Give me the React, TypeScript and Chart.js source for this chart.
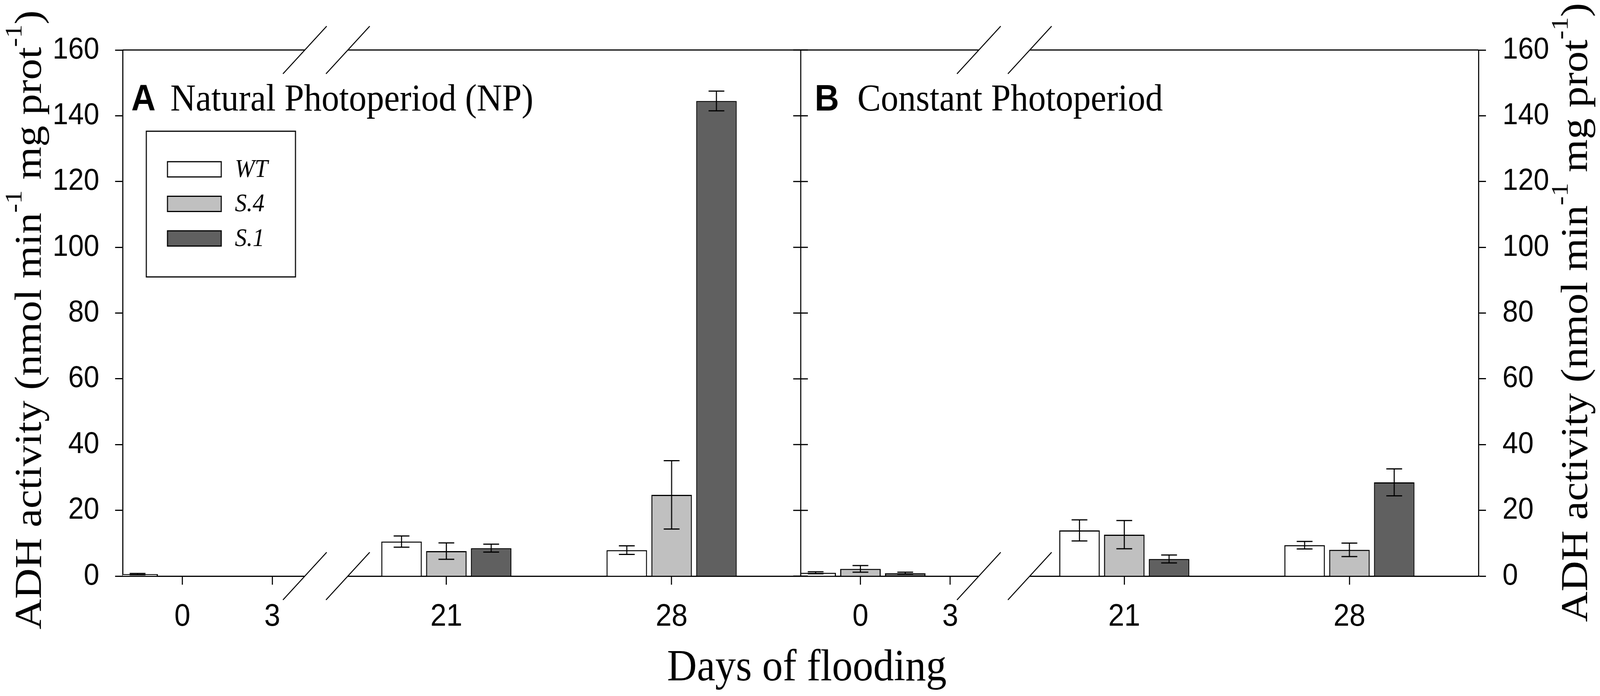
import { useEffect, useRef } from 'react';
import { Chart, registerables } from 'chart.js';

Chart.register(...registerables);

// ---------- data ----------
const DAYS = ['0', '3', '21', '28'];
const SERIES = ['WT', 'S.4', 'S.1'];

// Panel A: Natural Photoperiod (NP)
const A_WT = [0.6, null, 10.5, 7.9];
const A_WT_ERR = [0.2, null, 1.7, 1.3];
const A_S4 = [null, null, 7.6, 24.7];
const A_S4_ERR = [null, null, 2.5, 10.4];
const A_S1 = [null, null, 8.5, 144.5];
const A_S1_ERR = [null, null, 1.2, 3.0];

// Panel B: Constant Photoperiod
const B_WT = [1.0, null, 13.9, 9.4];
const B_WT_ERR = [0.3, null, 3.2, 1.15];
const B_S4 = [2.2, null, 12.6, 8.0];
const B_S4_ERR = [1.0, null, 4.3, 2.05];
const B_S1 = [0.9, null, 5.2, 28.5];
const B_S1_ERR = [0.3, null, 1.2, 4.1];

const Y_MIN = 0;
const Y_MAX = 160;
const Y_STEP = 20;

// ---------- layout / style ----------
const W = 4462;
const H = 1782;
const PLOT_LEFT = 342;
const PLOT_MID = 2233;
const PLOT_RIGHT = 4123;
const PLOT_TOP = 128;
const PLOT_BOTTOM = 1475;

// broken x axis: slot positions of the day ticks (scale runs 0..100 per panel)
const X_MAX = 100;
const DAY_POS = [8.81, 22.06, 47.74, 80.96];
const BREAK_POS = 30.04;
const BAR_PITCH = 6.61;
const BAR_FILL = 0.904;

const COLORS = ['#ffffff', '#c0c0c0', '#606060'];
const SANS = "'Liberation Sans', Arial, sans-serif";
const SERIF = "'Liberation Serif', 'Times New Roman', serif";

const Y_TITLE_LEN = 1585;

const PANEL = {
  A: {
    letter: 'A',
    title: 'Natural Photoperiod (NP)',
    letterDx: 24,
    titleDx: 133,
    breakGap: 60,
    yTitleX: 114,
    yTitleCY: 819,
  },
  B: {
    letter: 'B',
    title: 'Constant Photoperiod',
    letterDx: 39,
    titleDx: 158,
    breakGap: 71,
    yTitleX: 4426,
    yTitleCY: 800,
  },
};

const Y_TITLE_PARTS = [
  { t: 'ADH activity (nmol min', sup: false },
  { t: '-1', sup: true },
  { t: ' mg prot', sup: false },
  { t: '-1', sup: true },
  { t: ')', sup: false },
];

const minGap = Math.min(...DAY_POS.slice(1).map((v, i) => v - DAY_POS[i]));

function line(ctx, x1, y1, x2, y2) {
  ctx.beginPath();
  ctx.moveTo(x1, y1);
  ctx.lineTo(x2, y2);
  ctx.stroke();
}

const errorBarPlugin = {
  id: 'errorBars',
  afterDatasetsDraw(chart) {
    const { ctx } = chart;
    const yScale = chart.scales.y;
    ctx.save();
    ctx.strokeStyle = '#000';
    ctx.lineWidth = 3;
    chart.data.datasets.forEach((ds, di) => {
      const meta = chart.getDatasetMeta(di);
      const errs = ds.errors || [];
      meta.data.forEach((el, i) => {
        const pt = ds.data[i];
        const e = errs[i];
        if (!pt || pt.y == null || e == null) return;
        const x = el.x;
        const yt = yScale.getPixelForValue(pt.y + e);
        const yb = yScale.getPixelForValue(Math.max(0, pt.y - e));
        line(ctx, x, yt, x, yb);
        line(ctx, x - 22, yt, x + 22, yt);
        line(ctx, x - 22, yb, x + 22, yb);
      });
    });
    ctx.restore();
  },
};

function makeFramePlugin(panelKey) {
  const P = PANEL[panelKey];
  return {
    id: 'frame' + panelKey,
    afterDraw(chart) {
      const { ctx, chartArea: ca } = chart;
      const xs = chart.scales.x;
      const ys = chart.scales.y;
      ctx.save();
      ctx.strokeStyle = '#000';
      ctx.lineWidth = 3;
      ctx.lineCap = 'butt';
      // top frame line
      line(ctx, ca.left, ca.top, ca.right, ca.top);
      if (panelKey === 'B') {
        // divider between panels, ticks on both sides
        line(ctx, ca.left, ca.top, ca.left, ca.bottom);
        ys.ticks.forEach((t) => {
          const py = ys.getPixelForValue(t.value);
          line(ctx, ca.left - 21, py, ca.left + 20, py);
        });
      }
      // axis break marks
      const cx = xs.getPixelForValue(BREAK_POS);
      const g = P.breakGap;
      const s = 61;
      [ca.top, ca.bottom].forEach((y0) => {
        ctx.fillStyle = '#fff';
        ctx.fillRect(cx - g, y0 - 3, 2 * g, 6);
        ctx.lineWidth = 2.5;
        [-g, g].forEach((d) => line(ctx, cx + d + s, y0 - s, cx + d - s, y0 + s));
      });

      // panel title
      ctx.fillStyle = '#000';
      ctx.textBaseline = 'alphabetic';
      ctx.textAlign = 'left';
      ctx.font = `bold 94px ${SANS}`;
      ctx.fillText(P.letter, ca.left + P.letterDx, ca.top + 155);
      ctx.font = `98px ${SERIF}`;
      ctx.fillText(P.title, ca.left + P.titleDx, ca.top + 155);

      // legend (panel A only)
      if (panelKey === 'A') {
        const bx = ca.left + 66;
        const by = ca.top + 208;
        ctx.lineWidth = 3;
        ctx.strokeRect(bx, by, 416, 373);
        const rowY = [305.5, 394, 482.5];
        chart.data.datasets.forEach((ds, i) => {
          const cy = ca.top + rowY[i];
          ctx.fillStyle = ds.backgroundColor;
          ctx.fillRect(ca.left + 125, cy - 19.5, 150, 39);
          ctx.strokeStyle = '#000';
          ctx.strokeRect(ca.left + 125, cy - 19.5, 150, 39);
          ctx.fillStyle = '#000';
          ctx.font = `italic 66px ${SERIF}`;
          ctx.textBaseline = 'middle';
          ctx.fillText(ds.label, ca.left + 313, cy + 2);
        });
      }

      // y axis title with superscripts
      ctx.save();
      ctx.translate(P.yTitleX, P.yTitleCY);
      ctx.rotate(-Math.PI / 2);
      ctx.textBaseline = 'alphabetic';
      ctx.textAlign = 'left';
      ctx.fillStyle = '#000';
      const mainFont = `106px ${SERIF}`;
      const supFont = `68px ${SERIF}`;
      let total = 0;
      const widths = Y_TITLE_PARTS.map((p) => {
        ctx.font = p.sup ? supFont : mainFont;
        const w = ctx.measureText(p.t).width;
        total += w;
        return w;
      });
      ctx.scale(Y_TITLE_LEN / total, 1);
      let px = -total / 2;
      Y_TITLE_PARTS.forEach((p, i) => {
        ctx.font = p.sup ? supFont : mainFont;
        ctx.fillText(p.t, px, p.sup ? -54 : 0);
        px += widths[i];
      });
      ctx.restore();

      // shared x axis title
      if (panelKey === 'B') {
        ctx.font = `115px ${SERIF}`;
        ctx.textAlign = 'center';
        ctx.textBaseline = 'alphabetic';
        ctx.fillStyle = '#000';
        ctx.fillText('Days of flooding', 2250, 1742);
      }
      ctx.restore();
    },
  };
}

function makeConfig(panelKey) {
  const isA = panelKey === 'A';
  const vals = isA ? [A_WT, A_S4, A_S1] : [B_WT, B_S4, B_S1];
  const errs = isA ? [A_WT_ERR, A_S4_ERR, A_S1_ERR] : [B_WT_ERR, B_S4_ERR, B_S1_ERR];
  const datasets = SERIES.map((name, k) => ({
    label: name,
    data: DAY_POS.map((x, i) => ({ x, y: vals[k][i] })),
    errors: errs[k],
    backgroundColor: COLORS[k],
    borderColor: '#000',
    borderWidth: 3,
    borderSkipped: 'start',
    categoryPercentage: (3 * BAR_PITCH) / minGap,
    barPercentage: BAR_FILL,
    clip: 0,
  }));
  return {
    type: 'bar',
    data: { datasets },
    options: {
      responsive: false,
      devicePixelRatio: 1,
      animation: false,
      events: [],
      layout: {
        padding: isA
          ? { top: PLOT_TOP, left: 0, right: W - PLOT_MID, bottom: 0 }
          : { top: PLOT_TOP, left: PLOT_MID, right: 0, bottom: 0 },
      },
      plugins: {
        legend: { display: false },
        tooltip: { enabled: false },
        title: { display: false },
      },
      scales: {
        x: {
          type: 'linear',
          min: 0,
          max: X_MAX,
          offset: false,
          afterBuildTicks: (scale) => {
            scale.ticks = DAY_POS.map((v) => ({ value: v }));
          },
          afterFit: (scale) => {
            scale.height = H - PLOT_BOTTOM;
          },
          ticks: {
            autoSkip: false,
            maxRotation: 0,
            minRotation: 0,
            padding: 35,
            color: '#000',
            font: { family: SANS, size: 80 },
            callback: (_v, i) => DAYS[i],
          },
          grid: {
            display: true,
            offset: false,
            drawOnChartArea: false,
            drawTicks: true,
            tickLength: 22,
            tickWidth: 3,
            tickColor: '#000',
            color: '#000',
          },
          border: { display: true, color: '#000', width: 3 },
        },
        y: {
          type: 'linear',
          position: isA ? 'left' : 'right',
          min: Y_MIN,
          max: Y_MAX,
          afterFit: (scale) => {
            scale.width = isA ? PLOT_LEFT : W - PLOT_RIGHT;
          },
          ticks: {
            stepSize: Y_STEP,
            padding: isA ? 44 : 46,
            color: '#000',
            font: { family: SANS, size: 78 },
          },
          grid: {
            drawOnChartArea: false,
            drawTicks: true,
            tickLength: 21,
            tickWidth: 3,
            tickColor: '#000',
            color: '#000',
          },
          border: { display: true, color: '#000', width: 3 },
        },
      },
    },
    plugins: [errorBarPlugin, makeFramePlugin(panelKey)],
  };
}

export default function App() {
  const refA = useRef(null);
  const refB = useRef(null);
  useEffect(() => {
    document.documentElement.style.overflow = 'hidden';
    document.body.style.margin = '0';
    document.body.style.overflow = 'hidden';
    const a = new Chart(refA.current, makeConfig('A') as any);
    const b = new Chart(refB.current, makeConfig('B') as any);
    return () => {
      a.destroy();
      b.destroy();
    };
  }, []);
  const cs = { position: 'absolute' as const, left: 0, top: 0, width: '100vw', height: '100vh' };
  return (
    <div style={{ position: 'fixed', left: 0, top: 0, width: '100vw', height: '100vh', background: '#fff' }}>
      <canvas ref={refA} width={W} height={H} style={cs} />
      <canvas ref={refB} width={W} height={H} style={cs} />
    </div>
  );
}
